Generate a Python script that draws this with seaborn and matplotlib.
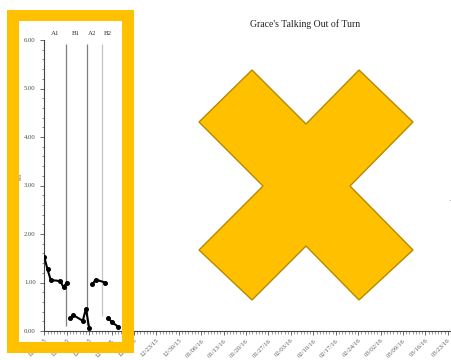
import numpy as np
import pandas as pd
import matplotlib
matplotlib.use("Agg")
import matplotlib.pyplot as plt
import matplotlib.dates as mdates
from matplotlib.patches import Rectangle, Polygon
import seaborn as sns

# Session dates and talking-out rates per phase
phases = ["A1"] * 6 + ["B1"] * 5 + ["A2"] * 3 + ["B2"] * 3
dates = ["2015-11-18", "2015-11-19", "2015-11-20", "2015-11-23", "2015-11-24", "2015-11-25",
         "2015-11-26", "2015-11-27", "2015-11-30", "2015-12-01", "2015-12-02",
         "2015-12-03", "2015-12-04", "2015-12-07",
         "2015-12-08", "2015-12-09", "2015-12-11"]
rates = [1.52, 1.27, 1.05, 1.03, 0.90, 1.00,
         0.27, 0.33, 0.21, 0.46, 0.06,
         0.96, 1.06, 1.00,
         0.26, 0.19, 0.09]

# Phase change lines (days after the first session) and label positions
phase_names = ["A1", "B1", "A2", "B2"]
label_days = [3.4, 10.0, 14.8, 19.9]
change_days = [6.7, 13.3, 18.0]
change_bottoms = [0.10, 0.12, 0.30]
change_colors = ["#7f7f7f", "#7f7f7f", "#c4c4c4"]

start = pd.Timestamp("2015-11-18")
end = pd.Timestamp("2016-03-23")

df = pd.DataFrame({"date": pd.to_datetime(dates), "rate": rates, "phase": phases})

sns.set_theme(style="white")
plt.rcParams["font.family"] = ["Liberation Serif", "DejaVu Serif"]

W, H = 452, 360
fig = plt.figure(figsize=(W / 100, H / 100), dpi=100)
fig.patch.set_facecolor("white")
ax = fig.add_axes([44 / W, 1 - 331 / H, 1 - 44 / W, (331 - 40) / H])

sns.lineplot(data=df, x="date", y="rate", hue="phase", units="phase", estimator=None,
             palette={p: "black" for p in phase_names}, marker="o", markersize=2.8,
             markeredgecolor="black", linewidth=1.5, legend=False, ax=ax, zorder=3)

def day(d):
    return start + pd.Timedelta(days=d)

for d, b, c in zip(change_days, change_bottoms, change_colors):
    ax.vlines(day(d), b, 5.92, colors=c, linewidth=0.9, zorder=2)

for name, d in zip(phase_names, label_days):
    ax.text(day(d), 6.14, name, ha="center", va="center", fontsize=5, color="#333333",
            clip_on=False)

ax.set_ylim(0, 6)
ax.set_xlim(day(-0.1), day(127.3))
ax.set_yticks(np.arange(0, 6.01, 1))
ax.set_yticks(np.arange(0, 6.01, 0.2), minor=True)
ax.yaxis.set_major_formatter(matplotlib.ticker.FormatStrFormatter("%.2f"))
ax.xaxis.set_major_locator(mdates.WeekdayLocator(byweekday=mdates.WE))
ax.xaxis.set_minor_locator(mdates.DayLocator())
ax.xaxis.set_major_formatter(mdates.DateFormatter("%m/%d/%y"))

ax.tick_params(axis="y", which="major", length=3, width=0.6, color="#555555",
               labelsize=4.8, labelcolor="#4a4a4a", pad=3, left=True)
ax.tick_params(axis="y", which="minor", length=1.8, width=0.5, color="#555555", left=True)
ax.tick_params(axis="x", which="major", length=3, width=0.6, color="#555555",
               labelsize=4.8, labelcolor="#5a5a5a", pad=2, bottom=True)
ax.tick_params(axis="x", which="minor", length=2, width=0.4, color="#555555", bottom=True)
for lab in ax.get_xticklabels():
    lab.set_rotation(45)
    lab.set_ha("right")
    lab.set_rotation_mode("anchor")

for s in ["top", "right"]:
    ax.spines[s].set_visible(False)
for s in ["left", "bottom"]:
    ax.spines[s].set_color("#444444")
    ax.spines[s].set_linewidth(0.8)

ax.set_xlabel("")
ax.set_ylabel("")
fig.text(20.5 / W, 1 - 176 / H, "Rate", rotation=90, fontsize=3, color="#555555",
         ha="center", va="center")

fig.text(305 / W, 1 - 24 / H, "Grace's Talking Out of Turn", ha="center", va="center",
         fontsize=7, color="#222222")
fig.text(451 / W, 1 - 201 / H, "-", ha="center", va="center", fontsize=5, color="#222222")

def px(x, y):
    return (x / W, 1 - y / H)

# Highlight frame around the baseline/intervention section
gold = "#FFC000"
for (x0, y0, x1, y1) in [(7, 10, 134, 21), (7, 342, 134, 353), (7, 10, 19, 353), (122, 10, 134, 353)]:
    fig.patches.append(Rectangle(px(x0, y1), (x1 - x0) / W, (y1 - y0) / H,
                                 transform=fig.transFigure, facecolor=gold,
                                 edgecolor="none", zorder=10))

# Large cross over the remaining empty weeks
cross = [(252, 70), (306, 124), (359, 70), (413, 122), (350, 186), (413, 250),
         (359, 300), (306, 246), (252, 300), (199, 250), (263, 186), (199, 122)]
fig.patches.append(Polygon([px(x, y) for x, y in cross], closed=True,
                           transform=fig.transFigure, facecolor=gold,
                           edgecolor="#B58A00", linewidth=1.0, zorder=10))

fig.savefig("out.png", dpi=100)
